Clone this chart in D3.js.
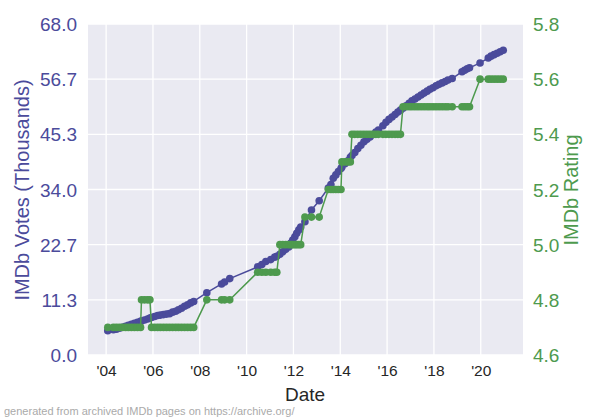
<!DOCTYPE html>
<html><head><meta charset="utf-8">
<script src="https://cdn.jsdelivr.net/npm/d3@7"></script>
<style>body{margin:0;background:#fff}svg{display:block}text{font-family:"Liberation Sans",Arial,sans-serif}</style>
</head><body><svg id="chart" width="600" height="420"></svg>
<script>
// decimal year of each archived snapshot
const dates = [2004.07,2004.31,2004.44,2004.57,2004.70,2004.83,2004.95,2005.08,2005.21,2005.34,2005.47,2005.51,2005.64,2005.77,2005.87,2005.94,2006.07,2006.20,2006.32,2006.45,2006.58,2006.71,2006.84,2006.97,2007.09,2007.22,2007.35,2007.48,2007.61,2007.74,2008.30,2008.93,2009.06,2009.28,2010.47,2010.65,2010.82,2011.03,2011.20,2011.29,2011.42,2011.54,2011.67,2011.80,2011.89,2011.97,2012.06,2012.14,2012.23,2012.31,2012.49,2012.77,2013.10,2013.49,2013.60,2013.70,2013.81,2013.92,2014.03,2014.07,2014.20,2014.33,2014.43,2014.50,2014.62,2014.75,2014.88,2015.01,2015.14,2015.27,2015.40,2015.52,2015.63,2015.82,2015.95,2016.08,2016.21,2016.34,2016.46,2016.57,2016.68,2016.81,2016.94,2017.06,2017.19,2017.32,2017.45,2017.58,2017.71,2017.83,2017.96,2018.09,2018.22,2018.35,2018.48,2018.60,2018.78,2019.20,2019.31,2019.42,2019.52,2019.97,2020.32,2020.44,2020.57,2020.70,2020.83,2020.96];
// IMDb votes (thousands)
const votes = [5.0,5.2,5.3,5.5,5.7,5.9,6.1,6.3,6.5,6.7,6.9,7.0,7.2,7.4,7.6,7.7,7.9,8.1,8.2,8.3,8.4,8.5,8.8,9.0,9.3,9.6,10.0,10.3,10.7,11.0,12.8,14.6,15.0,15.7,18.1,18.6,19.2,19.6,20.1,20.3,20.7,21.2,21.7,22.2,23.0,23.6,24.3,25.0,25.7,26.3,27.4,29.8,31.7,34.3,35.0,36.3,37.0,37.7,38.3,38.6,39.3,39.9,40.6,41.0,41.6,42.4,43.1,43.8,44.3,44.8,45.3,45.8,46.2,47.1,47.8,48.4,48.9,49.4,49.9,50.3,50.7,51.2,51.7,52.2,52.6,53.0,53.4,53.8,54.2,54.6,54.9,55.3,55.6,55.9,56.2,56.5,56.8,58.2,58.5,58.8,59.0,60.0,61.0,61.4,61.7,62.0,62.3,62.6];
// IMDb rating
const ratings = [4.7,4.7,4.7,4.7,4.7,4.7,4.7,4.7,4.7,4.7,4.7,4.8,4.8,4.8,4.8,4.7,4.7,4.7,4.7,4.7,4.7,4.7,4.7,4.7,4.7,4.7,4.7,4.7,4.7,4.7,4.8,4.8,4.8,4.8,4.9,4.9,4.9,4.9,4.9,4.9,5.0,5.0,5.0,5.0,5.0,5.0,5.0,5.0,5.0,5.0,5.1,5.1,5.1,5.2,5.2,5.2,5.2,5.2,5.2,5.3,5.3,5.3,5.3,5.4,5.4,5.4,5.4,5.4,5.4,5.4,5.4,5.4,5.4,5.4,5.4,5.4,5.4,5.4,5.4,5.4,5.5,5.5,5.5,5.5,5.5,5.5,5.5,5.5,5.5,5.5,5.5,5.5,5.5,5.5,5.5,5.5,5.5,5.5,5.5,5.5,5.5,5.6,5.6,5.6,5.6,5.6,5.6,5.6];

const yearTicks = [2004,2006,2008,2010,2012,2014,2016,2018,2020];
const voteTicks = [0, 68/6, 2*68/6, 3*68/6, 4*68/6, 5*68/6, 68];
const ratingTicks = [4.6,4.8,5.0,5.2,5.4,5.6,5.8];

const BLUE = "#4b4b9b", GREEN = "#4e9a4e";
const L = 88, R = 523, T = 24, B = 355;
const svg = d3.select("#chart");

const ext = d3.extent(dates), pad = (ext[1]-ext[0])*0.05;
const x = d3.scaleLinear().domain([ext[0]-pad, ext[1]+pad]).range([L, R]);
const yV = d3.scaleLinear().domain([0, 68]).range([B, T]);
const yR = d3.scaleLinear().domain([4.6, 5.8]).range([B, T]);

svg.append("rect").attr("x", L).attr("y", T).attr("width", R-L).attr("height", B-T).attr("fill", "#eaeaf2");

const g = svg.append("g");
g.selectAll(".vg").data(yearTicks).join("line")
  .attr("x1", d => x(d)).attr("x2", d => x(d)).attr("y1", T).attr("y2", B)
  .attr("stroke", "#fff").attr("stroke-width", 1.3);
g.selectAll(".hg").data(voteTicks).join("line")
  .attr("x1", L).attr("x2", R).attr("y1", d => yV(d)).attr("y2", d => yV(d))
  .attr("stroke", "#fff").attr("stroke-width", 1.3);

// axes
const axL = svg.append("g").attr("transform", `translate(${L},0)`)
  .call(d3.axisLeft(yV).tickValues(voteTicks).tickFormat(d3.format(".1f")).tickSize(0).tickPadding(11));
axL.select(".domain").remove();
axL.selectAll("text").attr("fill", BLUE).style("font-size", "19px").attr("dy", "0.35em");

const axR = svg.append("g").attr("transform", `translate(${R},0)`)
  .call(d3.axisRight(yR).tickValues(ratingTicks).tickFormat(d3.format(".1f")).tickSize(0).tickPadding(10));
axR.select(".domain").remove();
axR.selectAll("text").attr("fill", GREEN).style("font-size", "19px").attr("dy", "0.35em");

const axB = svg.append("g").attr("transform", `translate(0,${B})`)
  .call(d3.axisBottom(x).tickValues(yearTicks).tickFormat(d => "'" + String(d).slice(2)).tickSize(0).tickPadding(10));
axB.select(".domain").remove();
axB.selectAll("text").attr("fill", "#262626").style("font-size", "15.5px");

// labels
svg.append("text").attr("transform", `translate(29,190) rotate(-90)`).attr("text-anchor", "middle")
  .attr("fill", BLUE).style("font-size", "20px").text("IMDb Votes (Thousands)");
svg.append("text").attr("transform", `translate(578,190) rotate(-90)`).attr("text-anchor", "middle")
  .attr("fill", GREEN).style("font-size", "20px").text("IMDb Rating");
svg.append("text").attr("x", 305).attr("y", 401).attr("text-anchor", "middle")
  .attr("fill", "#262626").style("font-size", "19px").text("Date");
svg.append("text").attr("x", 4).attr("y", 415)
  .attr("fill", "#aaaaaa").style("font-size", "11px").text("generated from archived IMDb pages on https://archive.org/");

const idx = d3.range(dates.length);
// votes series
svg.append("path").datum(idx).attr("fill", "none").attr("stroke", BLUE).attr("stroke-width", 1.5)
  .attr("d", d3.line().x(i => x(dates[i])).y(i => yV(votes[i])));
svg.append("g").selectAll("circle").data(idx).join("circle")
  .attr("cx", i => x(dates[i])).attr("cy", i => yV(votes[i])).attr("r", 3.8).attr("fill", BLUE);
// ratings series
svg.append("path").datum(idx).attr("fill", "none").attr("stroke", GREEN).attr("stroke-width", 1.5)
  .attr("d", d3.line().x(i => x(dates[i])).y(i => yR(ratings[i])));
svg.append("g").selectAll("circle").data(idx).join("circle")
  .attr("cx", i => x(dates[i])).attr("cy", i => yR(ratings[i])).attr("r", 3.8).attr("fill", GREEN);
</script></body></html>
